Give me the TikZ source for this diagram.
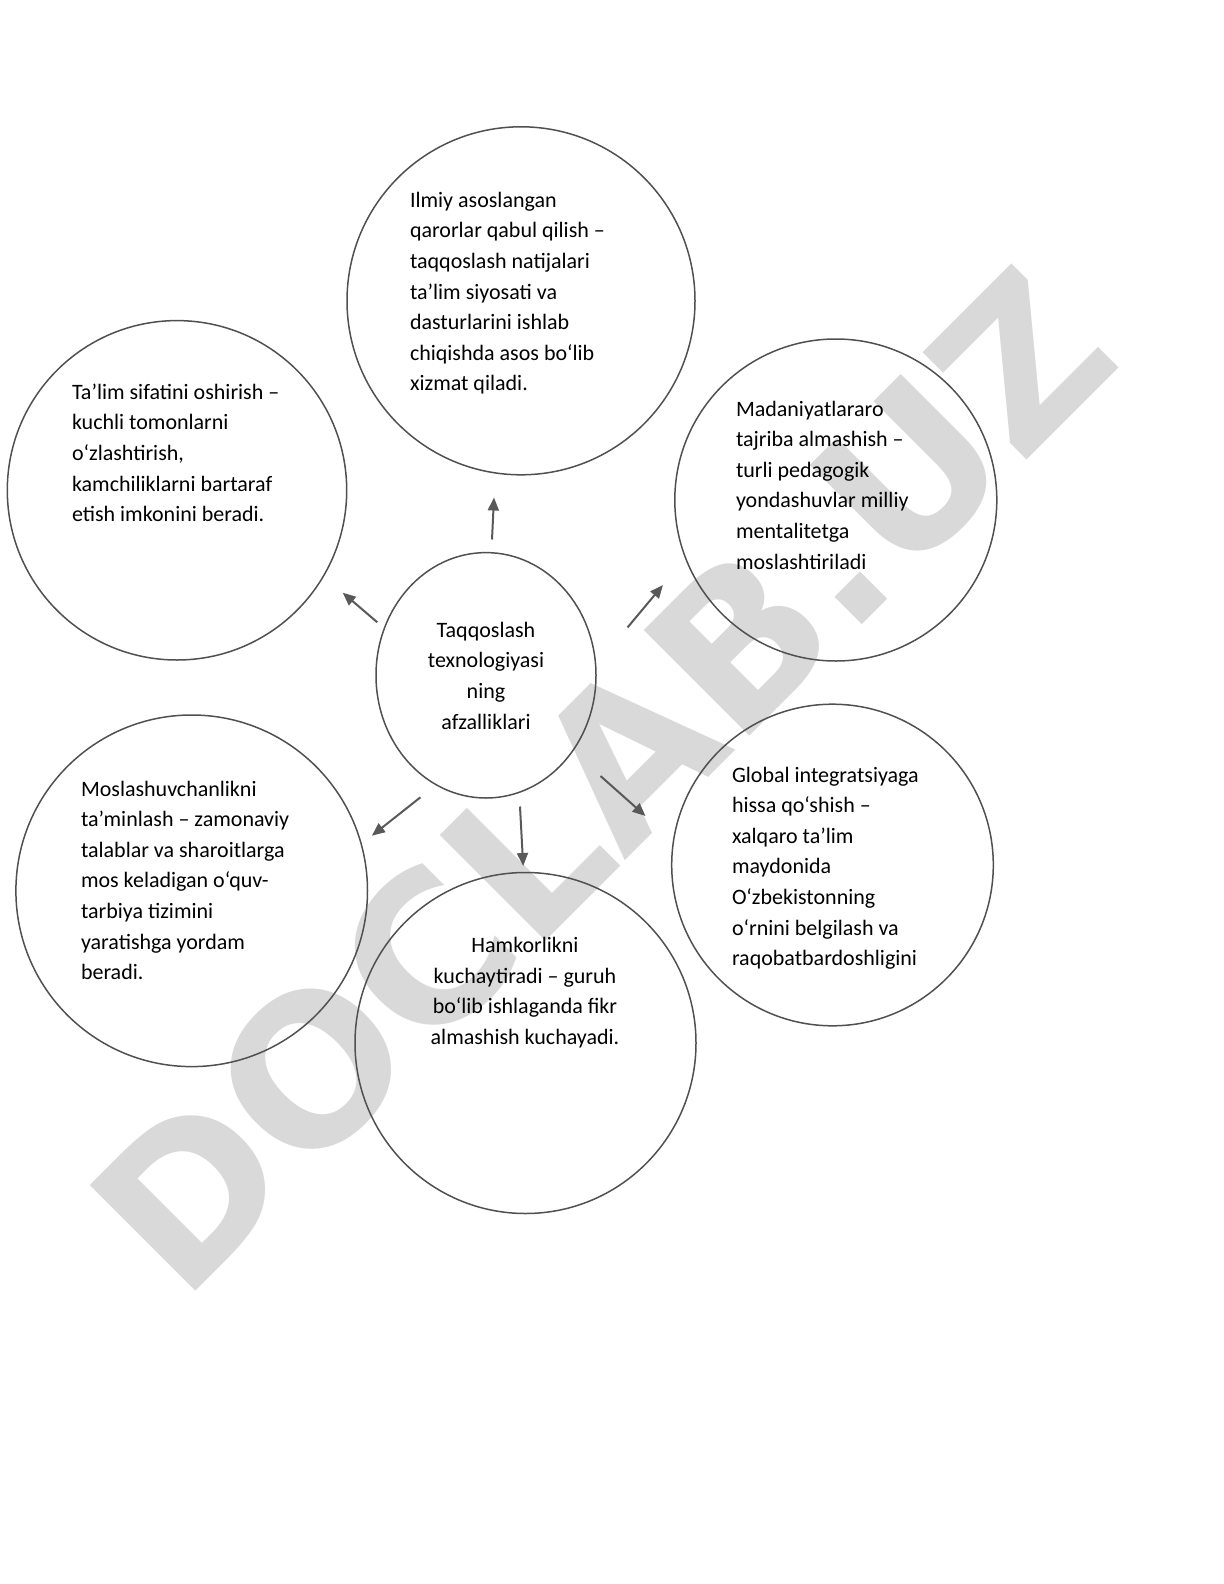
\documentclass[tikz,border=0pt]{standalone}
\usepackage{fontspec}
\setmainfont{Carlito}
\newfontfamily\wmfont{DejaVu Sans}
\usetikzlibrary{shapes.geometric,arrows.meta}
\definecolor{circline}{RGB}{80,80,80}
\definecolor{arrowcol}{RGB}{89,89,89}
\definecolor{wmcol}{RGB}{217,217,217}
\begin{document}
\begin{tikzpicture}[x=0.5pt,y=-0.5pt,
  bubble/.style={circle,draw=circline,line width=0.75pt,inner sep=0pt,outer sep=0pt},
  oval/.style={ellipse,draw=circline,line width=0.75pt,inner sep=0pt,outer sep=0pt},
  txt/.style={inner sep=0pt,outer sep=0pt,font=\fontsize{11}{15.3}\selectfont},
  ltxt/.style={txt,align=left,anchor=north west},
  ctxt/.style={txt,align=center,anchor=north},
  conn/.style={draw=arrowcol,line width=1pt,-{Triangle[length=6.5pt,width=5.5pt]}}
]
\useasboundingbox (0,0) rectangle (1224,1584);
% watermark
\node[rotate=45,font=\wmfont\bfseries\fontsize{102.5}{102.5}\selectfont,text=wmcol,inner sep=0pt] (wm) at (601,780) {DOCLAB.UZ};
% circles
\node[bubble,minimum size=174pt] (top) at (521,300.8) {};
\node[bubble,minimum size=169.7pt] (lu) at (177,490.3) {};
\node[bubble,minimum size=161pt] (ru) at (835.8,500) {};
\node[oval,minimum width=110pt,minimum height=122.7pt] (ctr) at (486,675.3) {};
\node[bubble,minimum size=160.8pt] (rl) at (832.5,865) {};
\node[bubble,minimum size=175.8pt] (ll) at (191.7,890.8) {};
\node[bubble,minimum size=170.5pt] (bot) at (525.5,1043) {};
% texts
\node[ltxt] (toptxt) at (410,187.3) {\rule{0pt}{10pt}Ilmiy asoslangan\\qarorlar qabul qilish –\\taqqoslash natijalari\\ta’lim siyosati va\\dasturlarini ishlab\\chiqishda asos bo‘lib\\xizmat qiladi.};
\node[ltxt] (lutxt) at (72,379.3) {\rule{0pt}{10pt}Ta’lim sifatini oshirish –\\kuchli tomonlarni\\o‘zlashtirish,\\kamchiliklarni bartaraf\\etish imkonini beradi.};
\node[ltxt] (rutxt) at (736,396) {\rule{0pt}{10pt}Madaniyatlararo\\tajriba almashish –\\turli pedagogik\\yondashuvlar milliy\\mentalitetga\\moslashtiriladi};
\node[ctxt] (ctrtxt) at (486,617.3) {\rule{0pt}{10pt}Taqqoslash\\texnologiyasi\\ning\\afzalliklari};
\node[ltxt] (rltxt) at (732,762) {\rule{0pt}{10pt}Global integratsiyaga\\hissa qo‘shish –\\xalqaro ta’lim\\maydonida\\O‘zbekistonning\\o‘rnini belgilash va\\raqobatbardoshligini};
\node[ltxt] (lltxt) at (81,776) {\rule{0pt}{10pt}Moslashuvchanlikni\\ta’minlash – zamonaviy\\talablar va sharoitlarga\\mos keladigan o‘quv-\\tarbiya tizimini\\yaratishga yordam\\beradi.};
\node[ctxt] (bottxt) at (525,932.7) {\rule{0pt}{10pt}Hamkorlikni\\kuchaytiradi – guruh\\bo‘lib ishlaganda fikr\\almashish kuchayadi.};
% arrow end points
\coordinate (s1) at (492,539.5); \coordinate (e1) at (494,497.5);
\coordinate (s2) at (377.3,622.3); \coordinate (e2) at (342.7,592.7);
\coordinate (s3) at (627.5,627.5); \coordinate (e3) at (662.9,585.1);
\coordinate (s4) at (420.4,797.3); \coordinate (e4) at (371.9,835.7);
\coordinate (s5) at (520,806.5); \coordinate (e5) at (523.2,866);
\coordinate (s6) at (600.5,776); \coordinate (e6) at (645.5,816);
\draw[conn] (s1) -- (e1);
\draw[conn] (s2) -- (e2);
\draw[conn] (s3) -- (e3);
\draw[conn] (s4) -- (e4);
\draw[conn] (s5) -- (e5);
\draw[conn] (s6) -- (e6);
\end{tikzpicture}
\end{document}
